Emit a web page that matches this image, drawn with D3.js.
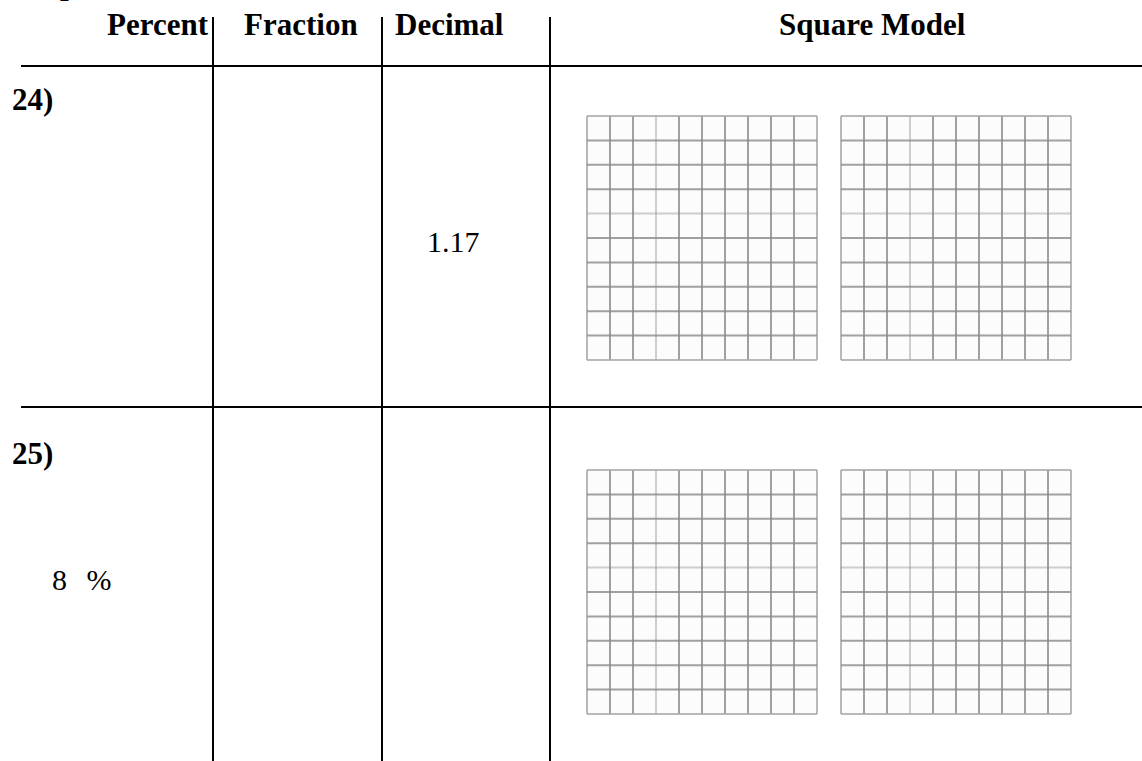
<!DOCTYPE html>
<html>
<head>
<meta charset="utf-8">
<script src="https://cdn.jsdelivr.net/npm/d3@7"></script>
<style>
  body { margin: 0; background: #fff; }
  svg { display: block; }
</style>
</head>
<body>
<div id="chart"></div>
<script>
// table content
var headers = ['Percent', 'Fraction', 'Decimal', 'Square Model'];
var rowLabels = ['24)', '25)'];
var percentVals = ['', '8 %'];
var fractionVals = ['', ''];
var decimalVals = ['1.17', ''];
var squaresPerRow = [2, 2];
var gridDivisions = d3.range(0, 11);

var W = 1142, H = 761;
var font = '"Liberation Serif", "Times New Roman", serif';

var svg = d3.select('#chart')
    .append('svg')
    .attr('width', W)
    .attr('height', H)
    .attr('viewBox', '0 0 ' + W + ' ' + H);

// clipped line of text above the table (only descenders show)
svg.append('text')
    .attr('x', 60).attr('y', -6)
    .style('font-family', font).style('font-weight', 'bold').style('font-size', '31px')
    .text('p');
svg.append('text')
    .attr('x', 232).attr('y', -6)
    .style('font-family', font).style('font-weight', 'bold').style('font-size', '31px')
    .text(',');

// column layout
var colLines = [213, 382, 550];
var headerPos = [
    {x: 208, anchor: 'end'},
    {x: 244, anchor: 'start'},
    {x: 395, anchor: 'start'},
    {x: 779, anchor: 'start'}
];
var rowTop = d3.scalePoint().domain(rowLabels).range([66, 407]);
var rowShift = 354;

svg.selectAll('text.header')
    .data(headers)
    .enter().append('text')
    .attr('class', 'header')
    .attr('x', function(d, i) { return headerPos[i].x; })
    .attr('y', 35)
    .attr('text-anchor', function(d, i) { return headerPos[i].anchor; })
    .style('font-family', font)
    .style('font-weight', 'bold')
    .style('font-size', '31px')
    .text(function(d) { return d; });

// row separators
svg.selectAll('line.rowline')
    .data(rowLabels)
    .enter().append('line')
    .attr('class', 'rowline')
    .attr('x1', 21).attr('x2', W)
    .attr('y1', function(d) { return rowTop(d); })
    .attr('y2', function(d) { return rowTop(d); })
    .style('stroke', '#000')
    .style('stroke-width', 2);

// column dividers
svg.selectAll('line.colline')
    .data(colLines)
    .enter().append('line')
    .attr('class', 'colline')
    .attr('x1', function(d) { return d; })
    .attr('x2', function(d) { return d; })
    .attr('y1', 17).attr('y2', H)
    .style('stroke', '#000')
    .style('stroke-width', 2);

// row labels
svg.selectAll('text.rowlabel')
    .data(rowLabels)
    .enter().append('text')
    .attr('class', 'rowlabel')
    .attr('x', 12)
    .attr('y', function(d, i) { return 110 + i * rowShift; })
    .style('font-family', font)
    .style('font-weight', 'bold')
    .style('font-size', '31px')
    .text(function(d) { return d; });

// cell values
function cellText(vals, x, y0) {
    svg.selectAll(null)
        .data(vals)
        .enter().append('text')
        .attr('x', x)
        .attr('y', function(d, i) { return y0 + i * rowShift; })
        .style('font-family', font)
        .style('font-size', '30px')
        .style('word-spacing', '12px')
        .text(function(d) { return d; });
}
cellText(percentVals, 52, 236);
cellText(fractionVals, 250, 252);
cellText(decimalVals, 427, 252);

// square models
var boxX = [587, 841];
var boxW = 230, boxH = 244;

rowLabels.forEach(function(r, ri) {
    var y0 = 116 + ri * rowShift;
    d3.range(squaresPerRow[ri]).forEach(function(si) {
        var x = d3.scaleLinear().domain([0, 10]).range([boxX[si], boxX[si] + boxW]);
        var y = d3.scaleLinear().domain([0, 10]).range([y0, y0 + boxH]);
        var g = svg.append('g').attr('class', 'square');

        g.append('rect')
            .attr('x', x(0)).attr('y', y(0))
            .attr('width', x(10) - x(0)).attr('height', y(10) - y(0))
            .style('fill', '#fcfcfc');

        g.selectAll('line.v').data(gridDivisions).enter().append('line')
            .attr('x1', function(d) { return x(d); }).attr('x2', function(d) { return x(d); })
            .attr('y1', y(0)).attr('y2', y(10))
            .style('stroke', function(d) { return (d === 0 || d === 10) ? '#a8a8a8' : '#8a8a8a'; })
            .style('stroke-width', 2)
            .style('stroke-opacity', function(d) { return d === 3 ? 0.4 : 0.8; });
        g.selectAll('line.h').data(gridDivisions).enter().append('line')
            .attr('y1', function(d) { return y(d); }).attr('y2', function(d) { return y(d); })
            .attr('x1', x(0)).attr('x2', x(10))
            .style('stroke', function(d) { return (d === 0 || d === 10) ? '#a8a8a8' : '#8a8a8a'; })
            .style('stroke-width', 2)
            .style('stroke-opacity', function(d) { return d === 4 ? 0.4 : 0.8; });
    });
});
</script>
</body>
</html>
